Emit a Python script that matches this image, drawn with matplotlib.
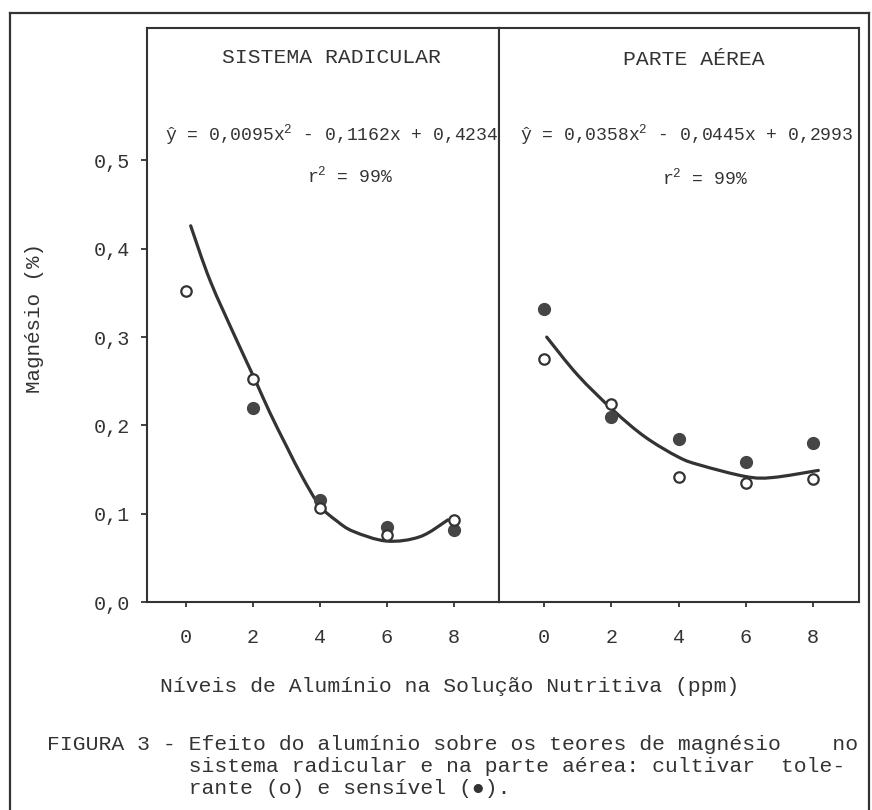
import numpy as np
import matplotlib
matplotlib.use("Agg")
import matplotlib.pyplot as plt
from matplotlib.lines import Line2D
from matplotlib.path import Path
from matplotlib.patches import PathPatch

plt.rcParams['font.family'] = ['Liberation Mono', 'DejaVu Sans Mono']
plt.rcParams['mathtext.fontset'] = 'custom'
plt.rcParams['mathtext.rm'] = 'Liberation Mono'
plt.rcParams['mathtext.it'] = 'Liberation Mono'

# Al levels (ppm)
levels = [0, 2, 4, 6, 8]

# Mg (%) - sistema radicular
root_tol = [0.352, 0.252, 0.106, 0.076, 0.093]
root_sens = [np.nan, 0.220, 0.115, 0.085, 0.082]
# fitted curve, as drawn in the figure
root_curve_x = [0.14, 0.72, 1.52, 2.06, 2.5, 3.01, 3.5, 4.0, 4.5, 5.0, 6.0, 7.0, 7.83]
root_curve_y = [0.426, 0.364, 0.296, 0.252, 0.215, 0.176, 0.140, 0.109, 0.092, 0.080, 0.069, 0.074, 0.093]

# Mg (%) - parte aerea
shoot_tol = [0.275, 0.224, 0.142, 0.135, 0.139]
shoot_sens = [0.332, 0.210, 0.185, 0.159, 0.180]
shoot_curve_x = [0.08, 1.0, 2.06, 3.0, 4.0, 4.64, 6.0, 6.8, 8.15]
shoot_curve_y = [0.300, 0.257, 0.217, 0.187, 0.164, 0.155, 0.142, 0.141, 0.149]

ytick_vals = [0.0, 0.1, 0.2, 0.3, 0.4, 0.5]
ytick_labels = ['0,0', '0,1', '0,2', '0,3', '0,4', '0,5']

INK = '#333333'
W, H = 872, 810


def fx(x):
    return x / W


def fy(y):
    return 1 - y / H


def smooth_path(xs, ys):
    # Catmull-Rom through the read points, drawn as cubic beziers
    pts = np.column_stack([xs, ys])
    verts = [pts[0]]
    codes = [Path.MOVETO]
    n = len(pts)
    for i in range(n - 1):
        p0 = pts[i - 1] if i > 0 else pts[i]
        p1, p2 = pts[i], pts[i + 1]
        p3 = pts[i + 2] if i + 2 < n else pts[i + 1]
        verts += [p1 + (p2 - p0) / 6, p2 - (p3 - p1) / 6, p2]
        codes += [Path.CURVE4] * 3
    return Path(verts, codes)


fig = plt.figure(figsize=(W / 100, H / 100), dpi=100)
fig.patch.set_facecolor('white')

ax1 = fig.add_axes([fx(147), fy(602), (499 - 147) / W, (602 - 28) / H])
ax2 = fig.add_axes([fx(499), fy(602), (859 - 499) / W, (602 - 28) / H])

panels = [
    (ax1, root_tol, root_sens, root_curve_x, root_curve_y, (-1.166, 9.357)),
    (ax2, shoot_tol, shoot_sens, shoot_curve_x, shoot_curve_y, (-1.337, 9.358)),
]

for ax, tol, sens, cx, cy, xl in panels:
    ax.add_patch(PathPatch(smooth_path(cx, cy), fill=False, ec=INK, lw=2.3,
                           capstyle='round', zorder=2))
    ax.plot(levels, sens, 'o', ms=8.5, mfc='#454545', mec='#454545', zorder=3)
    ax.plot(levels, tol, 'o', ms=7.5, mfc='white', mec=INK, mew=1.6, zorder=4)
    ax.set_xlim(*xl)
    ax.set_ylim(0, 0.65)
    ax.set_xticks(levels)
    ax.set_xticklabels([str(v) for v in levels])
    ax.tick_params(axis='x', direction='out', length=3.5, width=1.3,
                   color=INK, pad=15, labelsize=14.5, labelcolor=INK)
    for s in ax.spines.values():
        s.set_linewidth(1.5)
        s.set_color(INK)

ax1.set_yticks(ytick_vals)
ax1.set_yticklabels(ytick_labels)
ax1.tick_params(axis='y', direction='out', length=4.5, width=1.3,
                color=INK, pad=8, labelsize=14.5, labelcolor=INK)
ax2.set_yticks([])

# outer frame of the page
frame = dict(color=INK, lw=1.6, transform=fig.transFigure)
fig.add_artist(Line2D([fx(10), fx(869)], [fy(13), fy(13)], **frame))
fig.add_artist(Line2D([fx(10), fx(10)], [fy(13), 0], **frame))
fig.add_artist(Line2D([fx(869), fx(869)], [fy(13), 0], **frame))

# panel titles and equations
fig.text(fx(331), fy(63), 'SISTEMA RADICULAR', ha='center', va='baseline',
         fontsize=15.4, color=INK)
fig.text(fx(694), fy(65), 'PARTE AÉREA', ha='center', va='baseline',
         fontsize=15.4, color=INK)

fig.text(fx(165), fy(140), 'ŷ = 0,0095x$^2$ - 0,1162x + 0,4234', ha='left',
         va='baseline', fontsize=13, color=INK)
fig.text(fx(307), fy(182), 'r$^2$ = 99%', ha='left', va='baseline',
         fontsize=13, color=INK)
fig.text(fx(520), fy(140), 'ŷ = 0,0358x$^2$ - 0,0445x + 0,2993', ha='left',
         va='baseline', fontsize=13, color=INK)
fig.text(fx(662), fy(184), 'r$^2$ = 99%', ha='left', va='baseline',
         fontsize=13, color=INK)

# axis labels
fig.text(fx(34), fy(318), 'Magnésio (%)', rotation=90, ha='center',
         va='center', fontsize=15, color=INK)
fig.text(fx(450), fy(687), 'Níveis de Alumínio na Solução Nutritiva (ppm)',
         ha='center', va='center', fontsize=15.4, color=INK)

# caption
caption = [
    'FIGURA 3 - Efeito do alumínio sobre os teores de magnésio    no',
    '           sistema radicular e na parte aérea: cultivar  tole-',
    '           rante (o) e sensível (●).',
]
for i, line in enumerate(caption):
    fig.text(fx(47), fy(745 + 22 * i), line, ha='left', va='center',
             fontsize=15.4, color=INK)

fig.savefig('out.png', dpi=100, facecolor='white')
